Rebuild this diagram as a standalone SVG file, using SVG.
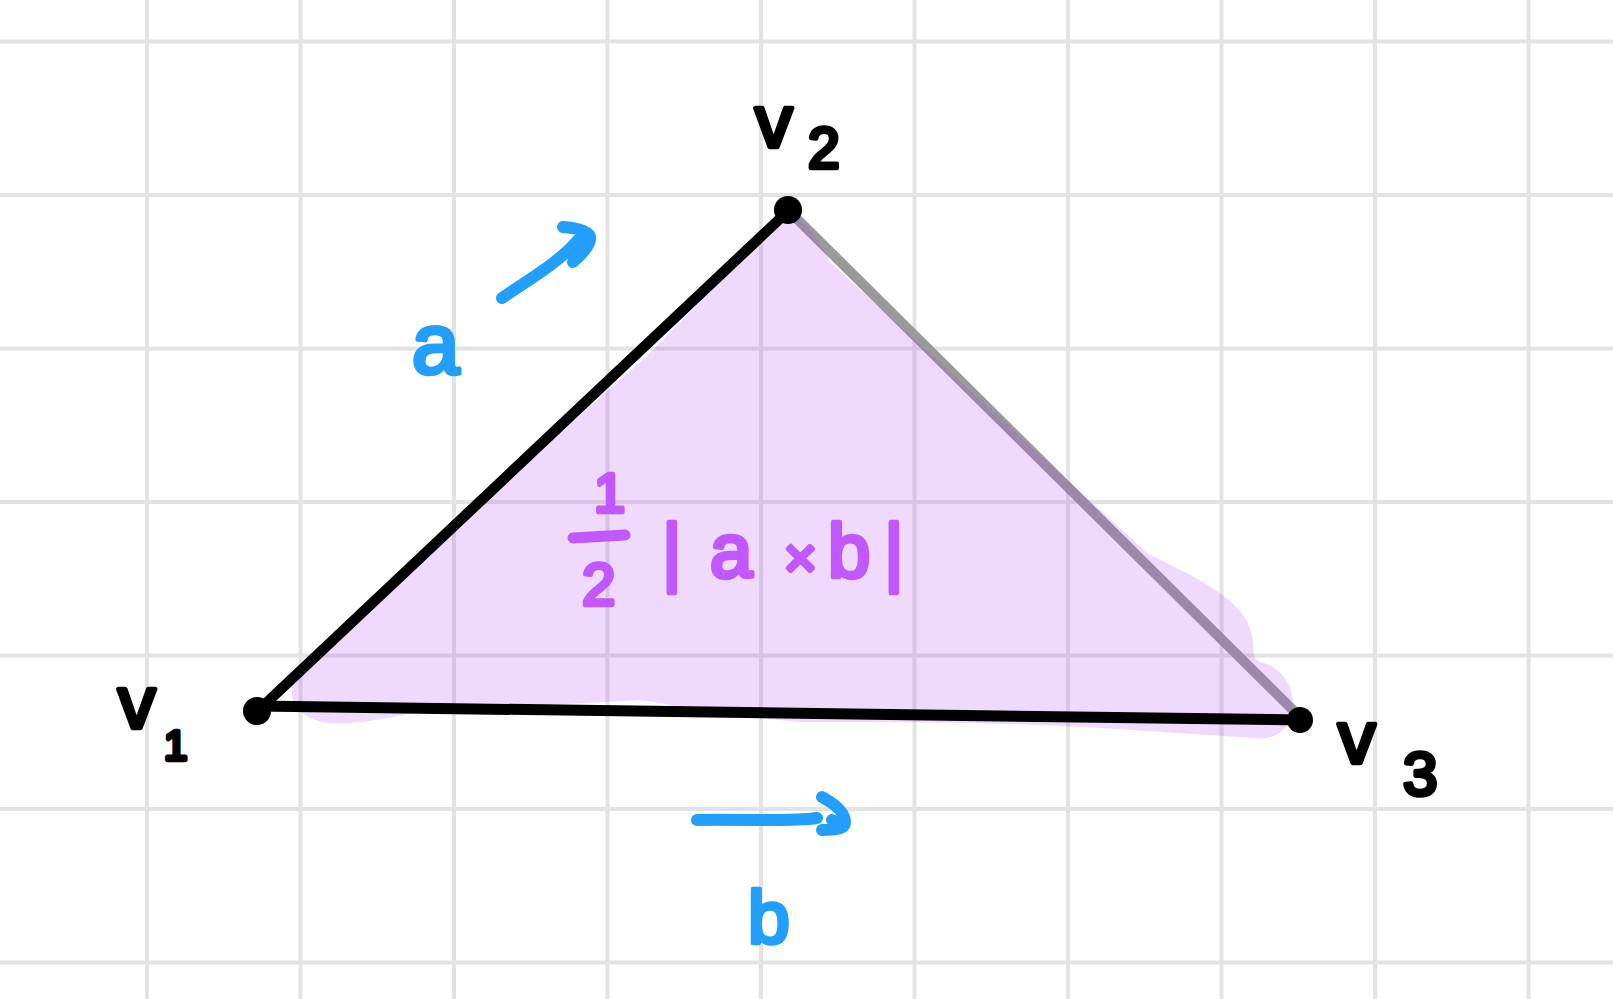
<svg xmlns="http://www.w3.org/2000/svg" width="1613" height="999" viewBox="0 0 1613 999">
<style>
.grid line{stroke:#e3e3e3;stroke-width:4}
.hand{font-family:"Liberation Sans",Arial,sans-serif;stroke-linejoin:round;stroke-linecap:round;stroke-width:4.5}
.blk{fill:#000;stroke:#000}
.blu{fill:#229ffd;stroke:#229ffd}
.pur{fill:#c158fd;stroke:#c158fd}
.vec{fill:none;stroke:#229ffd;stroke-width:12;stroke-linecap:round;stroke-linejoin:round}
</style>
<rect width="1613" height="999" fill="#fff"/>
<g class="grid" id="grid">
<line x1="147" y1="0" x2="147" y2="999"/>
<line x1="300.5" y1="0" x2="300.5" y2="999"/>
<line x1="454" y1="0" x2="454" y2="999"/>
<line x1="607.5" y1="0" x2="607.5" y2="999"/>
<line x1="761" y1="0" x2="761" y2="999"/>
<line x1="914.5" y1="0" x2="914.5" y2="999"/>
<line x1="1068" y1="0" x2="1068" y2="999"/>
<line x1="1221.5" y1="0" x2="1221.5" y2="999"/>
<line x1="1375" y1="0" x2="1375" y2="999"/>
<line x1="1528.5" y1="0" x2="1528.5" y2="999"/>
<line x1="0" y1="41.5" x2="1613" y2="41.5"/>
<line x1="0" y1="195" x2="1613" y2="195"/>
<line x1="0" y1="348.5" x2="1613" y2="348.5"/>
<line x1="0" y1="502" x2="1613" y2="502"/>
<line x1="0" y1="655.5" x2="1613" y2="655.5"/>
<line x1="0" y1="809" x2="1613" y2="809"/>
<line x1="0" y1="962.5" x2="1613" y2="962.5"/>
</g>
<g id="connectors">
<line x1="790" y1="212" x2="1298" y2="715" stroke="#9a9a9a" stroke-width="10"/>
<path id="area" d="M788,212 C805,220 820,240 830,262 L1147,553 C1190,575 1245,598 1252,635 C1255,652 1250,660 1264,663 C1285,670 1296,690 1292,712 C1288,732 1274,740 1255,738 L1100,728 C1000,722 900,722 800,722 L700,712 C680,708 660,702 640,700 L420,712 C385,718 350,726 328,723 C305,720 290,706 292,690 C294,672 302,660 318,648 L648,355 L788,212 Z" fill="#ac3cf4" fill-opacity="0.19"/>
<line x1="262" y1="707" x2="786" y2="213" stroke="#000" stroke-width="10.5" stroke-linecap="round"/>
<line x1="257" y1="706" x2="1300" y2="720" stroke="#000" stroke-width="11" stroke-linecap="round"/>
<path class="vec" d="M502,298 C525,282 560,262 578,240 M563,227 C578,228 592,232 590,240 C588,248 580,256 573,262 M584,236 L575,248"/>
<path class="vec" d="M697,820 C740,819 790,822 817,818 M822,797 C833,803 845,812 845,822 C845,830 832,830 822,830 M832,820 L838,824"/>
</g>
<g id="v1"><circle cx="257" cy="711" r="14"/><text class="hand blk" x="118" y="728" font-size="75">v<tspan x="164" y="760" font-size="42">1</tspan></text></g>
<g id="v2"><circle cx="788" cy="210" r="14"/><text class="hand blk" x="755" y="147" font-size="75">v<tspan x="808" y="168" font-size="57">2</tspan></text></g>
<g id="v3"><circle cx="1300" cy="720" r="13"/><text class="hand blk" x="1338" y="763" font-size="75">v<tspan x="1403" y="795" font-size="62">3</tspan></text></g>
<g id="label-a"><text class="hand blu" x="412" y="373" font-size="85">a</text></g>
<g id="label-b"><text class="hand blu" x="748" y="943" font-size="75">b</text></g>
<g id="area-label">
<text class="hand pur" x="594" y="512" font-size="56">1</text>
<line x1="573" y1="538" x2="625" y2="535" stroke="#c158fd" stroke-width="11" stroke-linecap="round"/>
<text class="hand pur" x="582" y="605" font-size="60">2</text>
<text class="hand pur" x="662 710" y="577" font-size="76">|a<tspan x="784" font-size="56">×</tspan><tspan x="828">b</tspan><tspan x="884">|</tspan></text>
</g>
</svg>
